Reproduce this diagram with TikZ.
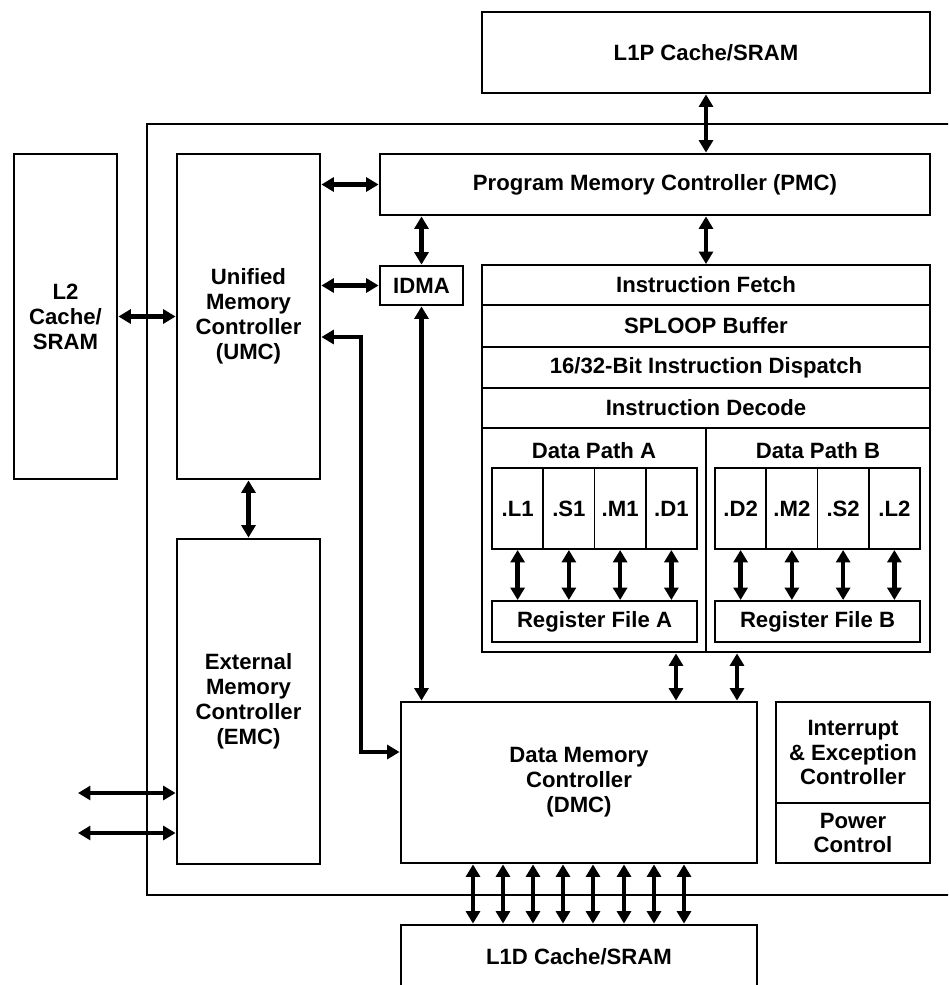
\documentclass[tikz,border=0pt]{standalone}
\usepackage{fontspec}
\setsansfont{Liberation Sans}
\usetikzlibrary{arrows.meta,fit}

\tikzset{
  blk/.style={draw, line width=1.6pt, inner sep=0pt},
  cell/.style={draw, line width=1.1pt, inner sep=0pt},
  every label/.style={align=center, inner sep=0pt},
  dbl/.style={line width=2.5pt,
    {Triangle[length=0.25cm,width=0.28cm]}-{Triangle[length=0.25cm,width=0.28cm]}},
}

\begin{document}
\begin{tikzpicture}[x=0.02cm,y=-0.02cm,
    font=\sffamily\bfseries\fontsize{12.6}{14.2}\selectfont]
  \useasboundingbox (0,0) rectangle (948,985);
  \clip (0,0) rectangle (948,985);
  % core frame (open on the right)
  \draw[line width=1.1pt] (960,124) -- (147,124) -- (147,895) -- (960,895);

  \node[blk, fit={(482,12) (930,93)}, label=center:{L1P Cache/SRAM}] (l1p) {};
  \node[blk, fit={(380,154) (930,215)}, label=center:{Program Memory Controller (PMC)}] (pmc) {};
  \node[blk, fit={(14,154) (117,479)}, label=center:{L2\\Cache/\\SRAM}] (l2) {};
  \node[blk, fit={(177,154) (320,479)}, label=center:{Unified\\Memory\\Controller\\(UMC)}] (umc) {};
  \node[blk, fit={(177,539) (320,864)}, label=center:{External\\Memory\\Controller\\(EMC)}] (emc) {};
  \node[blk, fit={(380,266) (463,305)}, label=center:{IDMA}] (idma) {};
  \node[blk, fit={(401,702) (757,863)}, label=center:{Data Memory\\Controller\\(DMC)}] (dmc) {};
  \node[blk, fit={(401,925) (757,988)}, label=center:{L1D Cache/SRAM}] (l1d) {};
  \node[blk, fit={(776,702) (930,803)}, label=center:{Interrupt\\\& Exception\\Controller}] (iec) {};
  \node[blk, fit={(776,803) (930,863)}, label=center:{Power\\Control}] (pwr) {};

  % CPU core
  \node[cell, fit={(482,265) (930,305)}, label=center:{Instruction Fetch}] (ifetch) {};
  \node[cell, fit={(482,305) (930,347)}, label=center:{SPLOOP Buffer}] (sploop) {};
  \node[cell, fit={(482,347) (930,388)}, label=center:{16/32-Bit Instruction Dispatch}] (disp) {};
  \node[cell, fit={(482,388) (930,428)}, label=center:{Instruction Decode}] (dec) {};
  \node[cell, fit={(482,428) (706,652)}] (dpa) {};
  \node[cell, fit={(706,428) (930,652)}] (dpb) {};
  \node[blk, fit={(482,265) (930,652)}] (cpu) {};
  \node (dpat) at (594,451) {Data Path A};
  \node (dpbt) at (818,451) {Data Path B};

  \node[cell, fit={(492,601) (697,642)}, label=center:{Register File A}] (rfa) {};
  \node[cell, fit={(715,601) (920,642)}, label=center:{Register File B}] (rfb) {};
  \foreach \n/\t [count=\i from 0] in {l1/.L1, s1/.S1, m1/.M1, d1/.D1}{
    \node[cell, fit={(492+51.25*\i,468) (543.25+51.25*\i,549)}, label=center:\t] (\n) {};
    \draw[dbl] (\n.south) -- (\n.south |- rfa.north);
  }
  \foreach \n/\t [count=\i from 0] in {d2/.D2, m2/.M2, s2/.S2, l2u/.L2}{
    \node[cell, fit={(715+51.25*\i,468) (766.25+51.25*\i,549)}, label=center:\t] (\n) {};
    \draw[dbl] (\n.south) -- (\n.south |- rfb.north);
  }

  % buses
  \draw[dbl] (l1p.south) -- (l1p.south |- pmc.north);
  \draw[dbl] (pmc.south -| ifetch.north) -- (ifetch.north);
  \draw[dbl] (umc.east |- pmc.west) -- (pmc.west);
  \draw[dbl] (umc.east |- idma.west) -- (idma.west);
  \draw[dbl] (l2.east |- umc.west) -- (umc.west);
  \draw[dbl] (idma.north) -- (idma.north |- pmc.south);
  \draw[dbl] (idma.south) -- (idma.south |- dmc.north);
  \draw[dbl] (umc.south) -- (emc.north);
  \coordinate (elt) at (361,337);
  \coordinate (elb) at (361,752);
  \draw[dbl] (umc.east |- elt) -- (elt) -- (elb) -- (dmc.west |- elb);
  \foreach \x in {676,737}
    \draw[dbl] (cpu.south -| \x,0) -- (dmc.north -| \x,0);
  \foreach \x in {473,503,533,563,593,624,654,684}
    \draw[dbl] (dmc.south -| \x,0) -- (l1d.north -| \x,0);
  \coordinate (ext1) at (78,793);
  \coordinate (ext2) at (78,833);
  \draw[dbl] (ext1) -- (ext1 -| emc.west);
  \draw[dbl] (ext2) -- (ext2 -| emc.west);
\end{tikzpicture}
\end{document}
